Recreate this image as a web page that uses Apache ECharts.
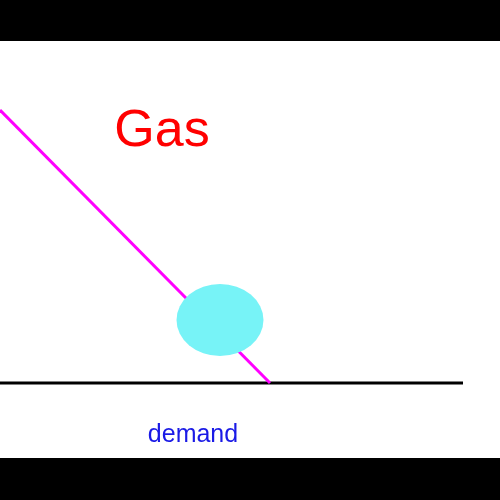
<!DOCTYPE html>
<html><head><meta charset="utf-8">
<script src="https://cdn.jsdelivr.net/npm/echarts@6/dist/echarts.min.js"></script>
<style>html,body{margin:0;padding:0;background:#000}#c{width:500px;height:500px}</style>
</head><body><div id="c"></div>
<script>
const curveX = [0, 270];
const curveY = [110, 383];
const baseX = [0, 463];
const baseY = [383, 383];
const pointX = [220];
const pointY = [320];
const titleText = "Gas";
const labelText = "demand";

const chart = echarts.init(document.getElementById('c'));
chart.setOption({
  backgroundColor: '#000',
  animation: false,
  grid: {left: 0, right: 0, top: 0, bottom: 0},
  xAxis: {type: 'value', min: 0, max: 500, show: false},
  yAxis: {type: 'value', min: 0, max: 500, inverse: true, show: false},
  graphic: [
    {type: 'rect', shape: {x: 0, y: 41, width: 500, height: 417}, style: {fill: '#fff'}, z: -1},
    {type: 'text', x: 162, y: 132, style: {text: titleText, fill: '#f00', font: '52px "Liberation Sans", Arial', textAlign: 'center', textVerticalAlign: 'middle'}},
    {type: 'text', x: 193, y: 435, style: {text: labelText, fill: '#1a1ae6', font: '25px "Liberation Sans", Arial', textAlign: 'center', textVerticalAlign: 'middle'}}
  ],
  series: [
    {type: 'line', data: baseX.map((x, i) => [x, baseY[i]]), symbol: 'none', lineStyle: {color: '#000', width: 3}, z: 2},
    {type: 'line', data: curveX.map((x, i) => [x, curveY[i]]), symbol: 'none', lineStyle: {color: '#f0f', width: 3}, z: 3},
    {type: 'scatter', data: pointX.map((x, i) => [x, pointY[i]]), symbol: 'circle', symbolSize: [87, 72], itemStyle: {color: '#77f3f7', opacity: 1}, z: 4}
  ]
});
</script></body></html>
